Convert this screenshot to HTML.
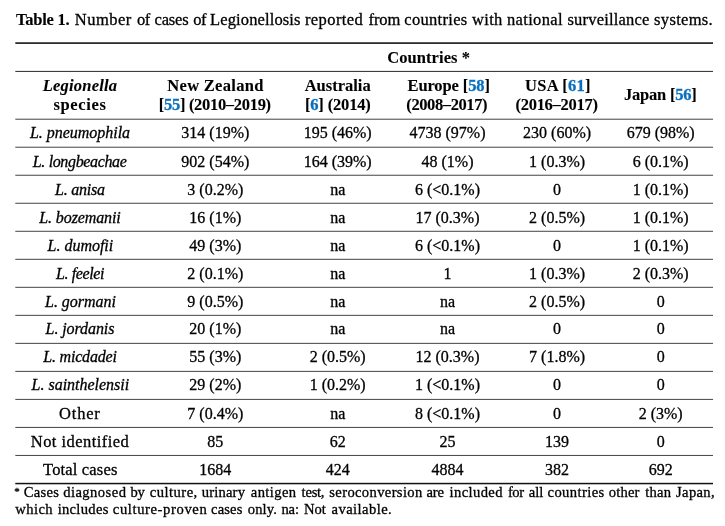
<!DOCTYPE html>
<html><head><meta charset="utf-8"><title>Table 1</title>
<style>
html,body{margin:0;padding:0;background:#fff;}
body{width:725px;height:526px;position:relative;overflow:hidden;font-family:"Liberation Serif",serif;color:#000;}
.t{position:absolute;white-space:nowrap;line-height:20px;margin-top:-15px;font-size:16px;-webkit-text-stroke:0.3px #000;}
.c{transform:translateX(-50%);}
.page{position:absolute;left:0;top:0;width:725px;height:526px;will-change:transform;}
.rules{position:absolute;left:0;top:0;}
.b{font-weight:bold;font-size:16.5px;-webkit-text-stroke:0.1px #000;}
.bi{font-weight:bold;font-style:italic;font-size:16.5px;-webkit-text-stroke:0.1px #000;}
.it{font-style:italic;font-size:16px;}
.n{font-size:16px;}
.g{font-size:16.5px;}
.k{font-style:normal;color:#0870c0;-webkit-text-stroke:0.3px #0870c0;}
.fn{font-size:14.6px;}
.ast{font-size:11px;}
</style></head>
<body>
<div class="page">
<svg class="rules" width="725" height="526" viewBox="0 0 725 526"><rect x="15.3" y="42.25" width="697.7" height="1.7" fill="#222"/><rect x="15.3" y="70.90" width="697.7" height="1.0" fill="#2a2a2a"/><rect x="15.3" y="118.70" width="697.7" height="1.0" fill="#444"/><rect x="15.3" y="146.72" width="697.7" height="1.0" fill="#444"/><rect x="15.3" y="174.74" width="697.7" height="1.0" fill="#444"/><rect x="15.3" y="202.76" width="697.7" height="1.0" fill="#444"/><rect x="15.3" y="230.78" width="697.7" height="1.0" fill="#444"/><rect x="15.3" y="258.80" width="697.7" height="1.0" fill="#444"/><rect x="15.3" y="286.82" width="697.7" height="1.0" fill="#444"/><rect x="15.3" y="314.84" width="697.7" height="1.0" fill="#444"/><rect x="15.3" y="342.86" width="697.7" height="1.0" fill="#444"/><rect x="15.3" y="370.88" width="697.7" height="1.0" fill="#444"/><rect x="15.3" y="398.90" width="697.7" height="1.0" fill="#444"/><rect x="15.3" y="426.92" width="697.7" height="1.0" fill="#444"/><rect x="15.3" y="454.94" width="697.7" height="1.0" fill="#444"/><rect x="15.3" y="482.80" width="697.7" height="1.5" fill="#111"/></svg>
<span class="t b" style="left:16.1px;top:25.0px;letter-spacing:-0.257px">Table 1.</span>
<span class="t g" style="left:74.8px;top:25.0px;letter-spacing:0.480px">Number</span>
<span class="t g" style="left:136.9px;top:25.0px;letter-spacing:-0.450px">of</span>
<span class="t g" style="left:154.6px;top:25.0px;letter-spacing:-0.200px">cases</span>
<span class="t g" style="left:193.2px;top:25.0px;letter-spacing:-0.450px">of</span>
<span class="t g" style="left:210.0px;top:25.0px;letter-spacing:0.133px">Legionellosis</span>
<span class="t g" style="left:304.9px;top:25.0px;letter-spacing:0.429px">reported</span>
<span class="t g" style="left:368.6px;top:25.0px;letter-spacing:-0.133px">from</span>
<span class="t g" style="left:404.3px;top:25.0px;letter-spacing:0.300px">countries</span>
<span class="t g" style="left:472.1px;top:25.0px;letter-spacing:0.267px">with</span>
<span class="t g" style="left:506.9px;top:25.0px;letter-spacing:0.371px">national</span>
<span class="t g" style="left:567.5px;top:25.0px;letter-spacing:0.182px">surveillance</span>
<span class="t g" style="left:654.1px;top:25.0px;letter-spacing:0.314px">systems.</span>
<span class="t b" style="left:387.2px;top:63.0px;letter-spacing:0.080px">Countries *</span>
<span class="t bi" style="left:42.7px;top:91.0px;letter-spacing:0.222px">Legionella</span>
<span class="t b" style="left:53.5px;top:110.0px;letter-spacing:0.633px">species</span>
<span class="t b" style="left:167.3px;top:91.0px;letter-spacing:0.300px">New Zealand</span>
<span class="t b" style="left:158.8px;top:110.0px;letter-spacing:-0.307px">[<i class="k">55</i>] (2010–2019)</span>
<span class="t b" style="left:304.7px;top:91.0px;letter-spacing:0.000px">Australia</span>
<span class="t b" style="left:304.9px;top:110.0px;letter-spacing:-0.156px">[<i class="k">6</i>] (2014)</span>
<span class="t b" style="left:407.5px;top:91.0px;letter-spacing:-0.120px">Europe [<i class="k">58</i>]</span>
<span class="t b" style="left:406.3px;top:110.0px;letter-spacing:-0.400px">(2008–2017)</span>
<span class="t b" style="left:525.1px;top:91.0px;letter-spacing:0.229px">USA [<i class="k">61</i>]</span>
<span class="t b" style="left:515.5px;top:110.0px;letter-spacing:-0.280px">(2016–2017)</span>
<span class="t b" style="left:624.0px;top:100.0px;letter-spacing:-0.222px">Japan [<i class="k">56</i>]</span>
<span class="t it" style="left:30.0px;top:138.0px;letter-spacing:-0.031px">L. pneumophila</span>
<span class="t it" style="left:32.8px;top:167.0px;letter-spacing:-0.354px">L. longbeachae</span>
<span class="t it" style="left:55.0px;top:195.0px;letter-spacing:-0.229px">L. anisa</span>
<span class="t it" style="left:39.3px;top:223.0px;letter-spacing:-0.109px">L. bozemanii</span>
<span class="t it" style="left:47.6px;top:251.0px;letter-spacing:-0.022px">L. dumofii</span>
<span class="t it" style="left:56.1px;top:279.0px;letter-spacing:-0.400px">L. feelei</span>
<span class="t it" style="left:45.1px;top:307.0px;letter-spacing:-0.044px">L. gormani</span>
<span class="t it" style="left:45.6px;top:334.0px;letter-spacing:-0.080px">L. jordanis</span>
<span class="t it" style="left:43.3px;top:362.0px;letter-spacing:-0.200px">L. micdadei</span>
<span class="t it" style="left:31.6px;top:390.0px;letter-spacing:-0.013px">L. sainthelensii</span>
<span class="t g" style="left:59.1px;top:419.0px;letter-spacing:0.800px">Other</span>
<span class="t g" style="left:30.8px;top:447.0px;letter-spacing:0.446px">Not identified</span>
<span class="t g" style="left:43.1px;top:475.0px;letter-spacing:0.160px">Total cases</span>
<span class="t ast" style="left:14.3px;top:496.0px;letter-spacing:-0.450px">*</span>
<span class="t fn" style="left:23.7px;top:497.0px;letter-spacing:0.300px">Cases</span>
<span class="t fn" style="left:63.2px;top:497.0px;letter-spacing:0.450px">diagnosed</span>
<span class="t fn" style="left:130.6px;top:497.0px;letter-spacing:-0.450px">by</span>
<span class="t fn" style="left:149.7px;top:497.0px;letter-spacing:0.486px">culture,</span>
<span class="t fn" style="left:201.8px;top:497.0px;letter-spacing:0.167px">urinary</span>
<span class="t fn" style="left:250.8px;top:497.0px;letter-spacing:0.400px">antigen</span>
<span class="t fn" style="left:301.6px;top:497.0px;letter-spacing:-0.250px">test,</span>
<span class="t fn" style="left:329.3px;top:497.0px;letter-spacing:0.354px">seroconversion</span>
<span class="t fn" style="left:426.4px;top:497.0px;letter-spacing:-0.100px">are</span>
<span class="t fn" style="left:449.6px;top:497.0px;letter-spacing:0.371px">included</span>
<span class="t fn" style="left:507.9px;top:497.0px;letter-spacing:-0.450px">for</span>
<span class="t fn" style="left:528.8px;top:497.0px;letter-spacing:-0.100px">all</span>
<span class="t fn" style="left:547.5px;top:497.0px;letter-spacing:0.400px">countries</span>
<span class="t fn" style="left:608.8px;top:497.0px;letter-spacing:0.150px">other</span>
<span class="t fn" style="left:645.3px;top:497.0px;letter-spacing:0.200px">than</span>
<span class="t fn" style="left:676.1px;top:497.0px;letter-spacing:0.320px">Japan,</span>
<span class="t fn" style="left:15.2px;top:514.0px;letter-spacing:0.450px">which</span>
<span class="t fn" style="left:57.7px;top:514.0px;letter-spacing:0.286px">includes</span>
<span class="t fn" style="left:112.8px;top:514.0px;letter-spacing:0.615px">culture-proven</span>
<span class="t fn" style="left:211.0px;top:514.0px;letter-spacing:0.150px">cases</span>
<span class="t fn" style="left:247.7px;top:514.0px;letter-spacing:0.150px">only.</span>
<span class="t fn" style="left:281.4px;top:514.0px;letter-spacing:-0.100px">na:</span>
<span class="t fn" style="left:303.9px;top:514.0px;letter-spacing:0.000px">Not</span>
<span class="t fn" style="left:331.6px;top:514.0px;letter-spacing:0.422px">available.</span>
<span class="t c n" style="left:215.3px;top:138.0px">314 (19%)</span>
<span class="t c n" style="left:337.7px;top:138.0px">195 (46%)</span>
<span class="t c n" style="left:447.5px;top:138.0px">4738 (97%)</span>
<span class="t c n" style="left:557.1px;top:138.0px">230 (60%)</span>
<span class="t c n" style="left:660.7px;top:138.0px">679 (98%)</span>
<span class="t c n" style="left:215.3px;top:167.0px">902 (54%)</span>
<span class="t c n" style="left:337.7px;top:167.0px">164 (39%)</span>
<span class="t c n" style="left:447.5px;top:167.0px">48 (1%)</span>
<span class="t c n" style="left:557.1px;top:167.0px">1 (0.3%)</span>
<span class="t c n" style="left:660.7px;top:167.0px">6 (0.1%)</span>
<span class="t c n" style="left:215.3px;top:195.0px">3 (0.2%)</span>
<span class="t c n" style="left:337.7px;top:195.0px">na</span>
<span class="t c n" style="left:447.5px;top:195.0px">6 (&lt;0.1%)</span>
<span class="t c n" style="left:557.1px;top:195.0px">0</span>
<span class="t c n" style="left:660.7px;top:195.0px">1 (0.1%)</span>
<span class="t c n" style="left:215.3px;top:223.0px">16 (1%)</span>
<span class="t c n" style="left:337.7px;top:223.0px">na</span>
<span class="t c n" style="left:447.5px;top:223.0px">17 (0.3%)</span>
<span class="t c n" style="left:557.1px;top:223.0px">2 (0.5%)</span>
<span class="t c n" style="left:660.7px;top:223.0px">1 (0.1%)</span>
<span class="t c n" style="left:215.3px;top:251.0px">49 (3%)</span>
<span class="t c n" style="left:337.7px;top:251.0px">na</span>
<span class="t c n" style="left:447.5px;top:251.0px">6 (&lt;0.1%)</span>
<span class="t c n" style="left:557.1px;top:251.0px">0</span>
<span class="t c n" style="left:660.7px;top:251.0px">1 (0.1%)</span>
<span class="t c n" style="left:215.3px;top:279.0px">2 (0.1%)</span>
<span class="t c n" style="left:337.7px;top:279.0px">na</span>
<span class="t c n" style="left:447.5px;top:279.0px">1</span>
<span class="t c n" style="left:557.1px;top:279.0px">1 (0.3%)</span>
<span class="t c n" style="left:660.7px;top:279.0px">2 (0.3%)</span>
<span class="t c n" style="left:215.3px;top:307.0px">9 (0.5%)</span>
<span class="t c n" style="left:337.7px;top:307.0px">na</span>
<span class="t c n" style="left:447.5px;top:307.0px">na</span>
<span class="t c n" style="left:557.1px;top:307.0px">2 (0.5%)</span>
<span class="t c n" style="left:660.7px;top:307.0px">0</span>
<span class="t c n" style="left:215.3px;top:334.0px">20 (1%)</span>
<span class="t c n" style="left:337.7px;top:334.0px">na</span>
<span class="t c n" style="left:447.5px;top:334.0px">na</span>
<span class="t c n" style="left:557.1px;top:334.0px">0</span>
<span class="t c n" style="left:660.7px;top:334.0px">0</span>
<span class="t c n" style="left:215.3px;top:362.0px">55 (3%)</span>
<span class="t c n" style="left:337.7px;top:362.0px">2 (0.5%)</span>
<span class="t c n" style="left:447.5px;top:362.0px">12 (0.3%)</span>
<span class="t c n" style="left:557.1px;top:362.0px">7 (1.8%)</span>
<span class="t c n" style="left:660.7px;top:362.0px">0</span>
<span class="t c n" style="left:215.3px;top:390.0px">29 (2%)</span>
<span class="t c n" style="left:337.7px;top:390.0px">1 (0.2%)</span>
<span class="t c n" style="left:447.5px;top:390.0px">1 (&lt;0.1%)</span>
<span class="t c n" style="left:557.1px;top:390.0px">0</span>
<span class="t c n" style="left:660.7px;top:390.0px">0</span>
<span class="t c n" style="left:215.3px;top:419.0px">7 (0.4%)</span>
<span class="t c n" style="left:337.7px;top:419.0px">na</span>
<span class="t c n" style="left:447.5px;top:419.0px">8 (&lt;0.1%)</span>
<span class="t c n" style="left:557.1px;top:419.0px">0</span>
<span class="t c n" style="left:660.7px;top:419.0px">2 (3%)</span>
<span class="t c n" style="left:215.3px;top:447.0px">85</span>
<span class="t c n" style="left:337.7px;top:447.0px">62</span>
<span class="t c n" style="left:447.5px;top:447.0px">25</span>
<span class="t c n" style="left:557.1px;top:447.0px">139</span>
<span class="t c n" style="left:660.7px;top:447.0px">0</span>
<span class="t c n" style="left:215.3px;top:475.0px">1684</span>
<span class="t c n" style="left:337.7px;top:475.0px">424</span>
<span class="t c n" style="left:447.5px;top:475.0px">4884</span>
<span class="t c n" style="left:557.1px;top:475.0px">382</span>
<span class="t c n" style="left:660.7px;top:475.0px">692</span>
</div>
</body></html>
